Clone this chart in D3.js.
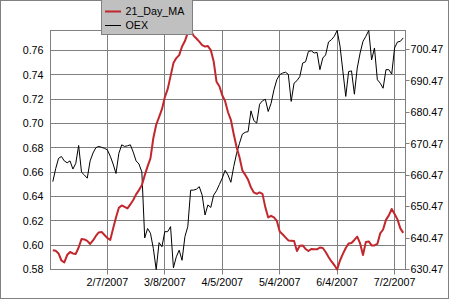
<!DOCTYPE html>
<html>
<head>
<meta charset="utf-8" />
<title>21 Day MA vs OEX</title>
<style>
html, body {
  margin: 0;
  padding: 0;
  background-color: #FFFFFF;
}
svg {
  display: block;
  font-family: Arial, "Liberation Sans", sans-serif;
}
</style>
<script src="https://d3js.org/d3.v7.min.js"></script>
</head>
<body>
<script>

// series names
var seriesNames = ["21_Day_MA", "OEX"];

// 21 day moving average (left axis), one value per trading day
var maValues = [
  0.5958, 0.5954, 0.5932, 0.5874, 0.5858, 0.5919, 0.5944, 0.5932, 0.5928, 0.5981,
  0.6050, 0.6047, 0.6035, 0.6010, 0.6039, 0.6076, 0.6105, 0.6109, 0.6084, 0.6059,
  0.6043, 0.6138, 0.6228, 0.6307, 0.6327, 0.6315, 0.6302, 0.6335, 0.6372, 0.6418,
  0.6453, 0.6492, 0.6574, 0.6648, 0.6714, 0.6879, 0.6990, 0.7052, 0.7118, 0.7217,
  0.7283, 0.7390, 0.7497, 0.7538, 0.7563, 0.7633, 0.7678, 0.7748, 0.7765, 0.7723,
  0.7699, 0.7674, 0.7645, 0.7633, 0.7637, 0.7604, 0.7513, 0.7344, 0.7307, 0.7233,
  0.7184, 0.7093, 0.7031, 0.6912, 0.6805, 0.6723, 0.6615, 0.6578, 0.6537, 0.6475,
  0.6434, 0.6422, 0.6434, 0.6422, 0.6311, 0.6228, 0.6241, 0.6228, 0.6200, 0.6113,
  0.6090, 0.6064, 0.6039, 0.6037, 0.6035, 0.5952, 0.5995, 0.5998, 0.5969, 0.5952,
  0.5969, 0.5966, 0.5966, 0.5981, 0.5977, 0.5944, 0.5903, 0.5866, 0.5837, 0.5800,
  0.5874, 0.5928, 0.5977, 0.6014, 0.6018, 0.6043, 0.6070, 0.6014, 0.5919, 0.6027,
  0.6031, 0.5998, 0.5998, 0.6010, 0.6097, 0.6129, 0.6208, 0.6245, 0.6298, 0.6257,
  0.6212, 0.6138, 0.6101
];

// OEX close (right axis)
var oexValues = [
  658.4, 662.5, 665.8, 666.4, 665.0, 664.4, 665.0, 662.4, 664.2, 669.9,
  661.4, 660.5, 659.5, 665.0, 667.5, 669.2, 669.6, 669.3, 669.0, 668.5,
  666.5, 664.0, 661.0, 667.4, 670.1, 669.6, 669.8, 670.1, 667.8, 665.0,
  664.0, 661.5, 640.5, 643.5, 642.0, 637.2, 630.47, 639.0, 637.7, 642.5,
  642.5, 644.1, 631.0, 634.5, 636.6, 633.4, 640.9, 644.1, 655.7, 655.7,
  656.0, 656.8, 654.1, 647.8, 651.0, 650.2, 654.1, 655.5, 657.5, 659.5,
  662.0, 660.5, 658.2, 663.2, 667.4, 670.6, 673.5, 674.1, 674.3, 680.9,
  677.8, 677.0, 683.0, 684.1, 684.6, 680.7, 683.3, 687.6, 690.8, 692.4,
  692.9, 693.2, 692.5, 683.9, 689.7, 690.5, 691.8, 696.1, 696.5, 699.8,
  700.0, 699.3, 699.5, 694.0, 697.7, 698.7, 702.8, 703.5, 704.6, 706.45,
  701.5, 693.5, 685.5, 693.4, 693.6, 686.2, 694.5, 699.3, 703.0, 704.6,
  706.45, 697.1, 700.9, 690.8, 689.7, 688.1, 694.0, 694.0, 692.6, 700.9,
  702.8, 703.0, 704.1
];

// category axis labels (every 20 trading days)
var xTickLabels = ["2/7/2007", "3/8/2007", "4/5/2007", "5/4/2007", "6/4/2007", "7/2/2007"];
var xTickIndex = [19, 39, 59, 79, 99, 119];

// axis ticks
var leftTicks = [0.58, 0.60, 0.62, 0.64, 0.66, 0.68, 0.70, 0.72, 0.74, 0.76];
var rightTicks = [630.47, 640.47, 650.47, 660.47, 670.47, 680.47, 690.47, 700.47];

var W = 450, H = 300;
var plot = {left: 50.5, right: 405.5, top: 30.5, bottom: 269.5};
var gridColor = "#808080";
var maColor = "#c1272d";

var svg = d3.select("body").append("svg")
  .attr("width", W)
  .attr("height", H);

svg.append("rect")
  .attr("x", 0).attr("y", 0)
  .attr("width", W).attr("height", H)
  .attr("fill", "#ffffff");

// outer frame
svg.append("rect")
  .attr("x", 0.5).attr("y", 0.5)
  .attr("width", 448).attr("height", 298)
  .attr("fill", "none")
  .attr("stroke", gridColor);

var x = d3.scaleLinear()
  .domain([-0.8, maValues.length - 0.2])
  .range([plot.left, plot.right]);

var yLeft = d3.scaleLinear()
  .domain([0.58, 0.7765])
  .range([plot.bottom, plot.top]);

var yRight = d3.scaleLinear()
  .domain([630.47, 706.45])
  .range([plot.bottom, plot.top]);

function crisp(v) { return Math.round(v - 0.5) + 0.5; }

// horizontal grid (left axis)
svg.append("g").selectAll("line")
  .data(leftTicks)
  .enter().append("line")
  .attr("x1", plot.left).attr("x2", plot.right)
  .attr("y1", function(d) { return crisp(yLeft(d)); })
  .attr("y2", function(d) { return crisp(yLeft(d)); })
  .attr("stroke", gridColor);

// vertical grid + small ticks below the axis
svg.append("g").selectAll("line")
  .data(xTickIndex)
  .enter().append("line")
  .attr("x1", function(d) { return crisp(x(d)); })
  .attr("x2", function(d) { return crisp(x(d)); })
  .attr("y1", plot.top).attr("y2", plot.bottom + 5)
  .attr("stroke", gridColor);

// plot frame
svg.append("rect")
  .attr("x", plot.left).attr("y", plot.top)
  .attr("width", plot.right - plot.left)
  .attr("height", plot.bottom - plot.top)
  .attr("fill", "none")
  .attr("stroke", gridColor);

// left labels
svg.append("g").selectAll("text")
  .data(leftTicks)
  .enter().append("text")
  .attr("x", 43.5)
  .attr("y", function(d) { return yLeft(d); })
  .attr("dy", "0.36em")
  .attr("text-anchor", "end")
  .attr("font-size", "10.7px")
  .attr("fill", "#000")
  .text(function(d) { return d3.format(".2f")(d); });

// right ticks and labels
var rt = svg.append("g");
rt.selectAll("line")
  .data(rightTicks)
  .enter().append("line")
  .attr("x1", plot.right).attr("x2", plot.right + 4)
  .attr("y1", function(d) { return crisp(yRight(d)); })
  .attr("y2", function(d) { return crisp(yRight(d)); })
  .attr("stroke", gridColor);
rt.selectAll("text")
  .data(rightTicks)
  .enter().append("text")
  .attr("x", plot.right + 5)
  .attr("y", function(d) { return yRight(d); })
  .attr("dy", "0.36em")
  .attr("font-size", "10.7px")
  .attr("fill", "#000")
  .text(function(d) { return d3.format(".2f")(d); });

// bottom labels
svg.append("g").selectAll("text")
  .data(xTickIndex)
  .enter().append("text")
  .attr("x", function(d) { return x(d); })
  .attr("y", 285.5)
  .attr("text-anchor", "middle")
  .attr("font-size", "10.7px")
  .attr("fill", "#000")
  .text(function(d, i) { return xTickLabels[i]; });

// lines
var maLine = d3.line()
  .x(function(d, i) { return x(i); })
  .y(function(d) { return yLeft(d); });

var oexLine = d3.line()
  .x(function(d, i) { return x(i); })
  .y(function(d) { return yRight(d); });

svg.append("path")
  .datum(oexValues)
  .attr("d", oexLine)
  .attr("fill", "none")
  .attr("stroke", "#000")
  .attr("stroke-width", 1);

svg.append("path")
  .datum(maValues)
  .attr("d", maLine)
  .attr("fill", "none")
  .attr("stroke", maColor)
  .attr("stroke-width", 2)
  .attr("stroke-linejoin", "round");

// legend box at the top
var lg = svg.append("g");
lg.append("rect")
  .attr("x", 101.5).attr("y", -1)
  .attr("width", 91).attr("height", 35.5)
  .attr("fill", "#c0c0c0")
  .attr("stroke", "#808080");

var legendColors = [maColor, "#000"];
var legendWidths = [2, 1];
seriesNames.forEach(function(name, i) {
  var ly = 11 + i * 14;
  lg.append("line")
    .attr("x1", 105).attr("x2", 121)
    .attr("y1", ly + 0.5).attr("y2", ly + 0.5)
    .attr("stroke", legendColors[i])
    .attr("stroke-width", legendWidths[i]);
  lg.append("text")
    .attr("x", 125.5)
    .attr("y", ly)
    .attr("dy", "0.36em")
    .attr("font-size", "10.7px")
    .attr("fill", "#000")
    .text(name);
});

</script>
</body>
</html>
